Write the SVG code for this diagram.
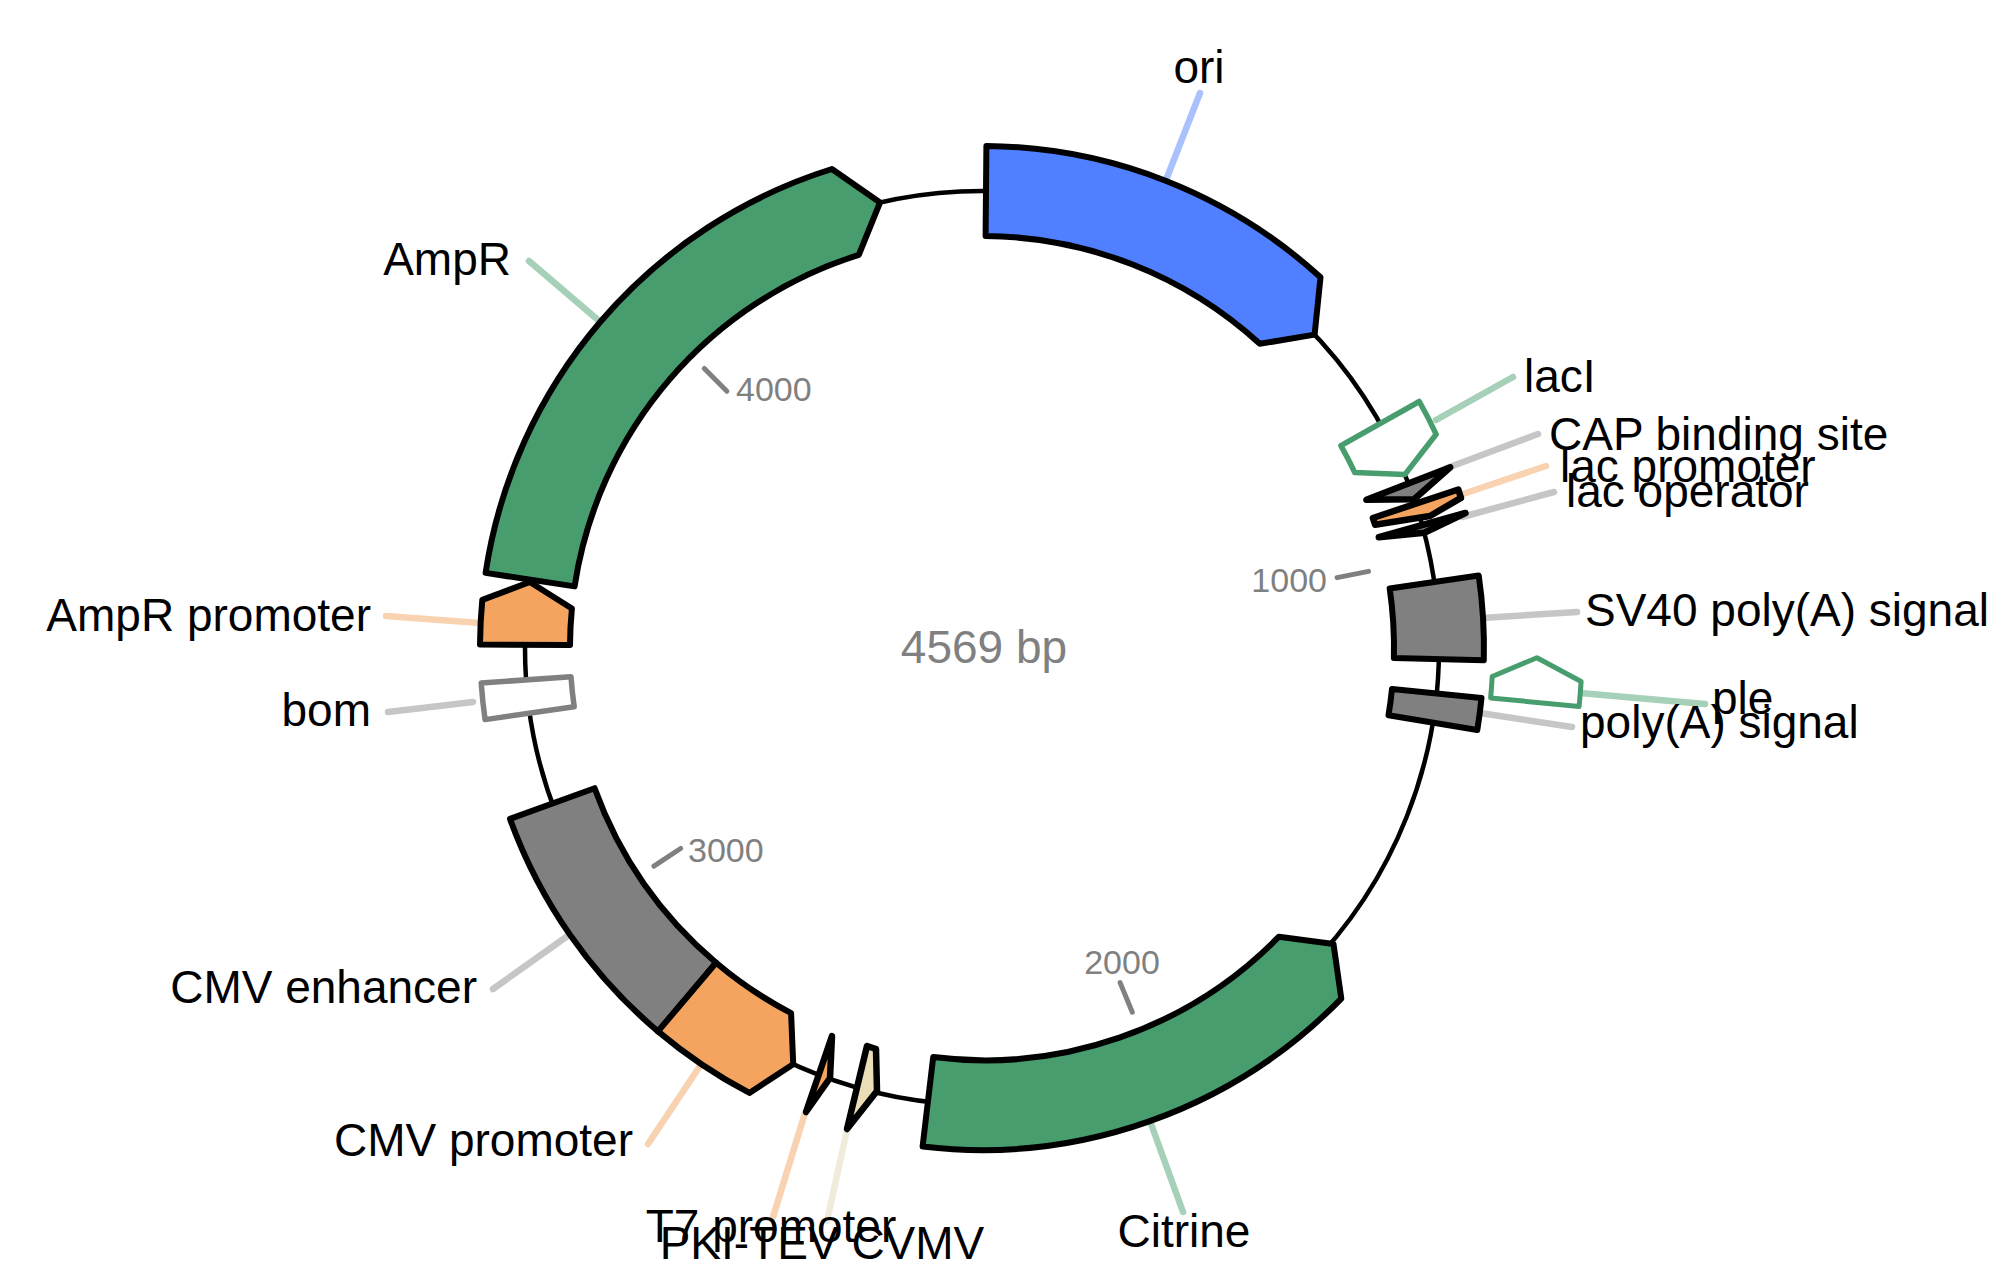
<svg xmlns="http://www.w3.org/2000/svg" width="2010" height="1278" viewBox="0 0 2010 1278">
<style>
.lbl{font-family:"Liberation Sans",Arial,Helvetica,sans-serif;font-size:46px;fill:#000}
.num{font-family:"Liberation Sans",Arial,Helvetica,sans-serif;font-size:34px;fill:#808080}
.f{stroke:#000;stroke-width:6;stroke-linejoin:round}
.s{stroke:#000;stroke-width:6.5;stroke-linejoin:round}
.ln{fill:none;stroke-width:6.5;stroke-linecap:round}
.tk{stroke:#808080;stroke-width:5;stroke-linecap:round}
.green{fill:#489d6e}
.blue{fill:#5080ff}
.orange{fill:#f4a45e}
.gray{fill:#808080}
.beige{fill:#e9deb6}
.lgreen{stroke:#a6d0b8}
.lblue{stroke:#a9c1fc}
.lorange{stroke:#f9d2b1}
.lgray{stroke:#c6c6c6}
.lbeige{stroke:#f0ebdb}
</style>
<rect width="2010" height="1278" fill="#ffffff"/>
<g id="backbone">
<circle cx="982" cy="648" r="457" fill="none" stroke="#000" stroke-width="4.5"/>
</g>
<g id="ticks">
<line class="tk" x1="1337.1" y1="577.6" x2="1368.5" y2="571.4"/>
<line class="tk" x1="1120.1" y1="982.6" x2="1132.3" y2="1012.2"/>
<line class="tk" x1="680.6" y1="848.5" x2="653.9" y2="866.2"/>
<line class="tk" x1="726.9" y1="391.2" x2="704.3" y2="368.5"/>
<text class="num" x="1327" y="592" text-anchor="end">1000</text>
<text class="num" x="1122" y="974" text-anchor="middle">2000</text>
<text class="num" x="688" y="862">3000</text>
<text class="num" x="736" y="401">4000</text>
</g>
<g id="connectors">
<line class="ln lblue" x1="1166" y1="180" x2="1200" y2="93"/>
<line class="ln lgreen" x1="598" y1="320" x2="529" y2="261"/>
<line class="ln lorange" x1="480" y1="623" x2="386" y2="616"/>
<line class="ln lgray" x1="473" y1="702" x2="388" y2="712"/>
<line class="ln lgray" x1="569" y1="935" x2="493" y2="989"/>
<line class="ln lorange" x1="702" y1="1063" x2="648" y2="1144"/>
<line class="ln lorange" x1="805" y1="1113" x2="773" y2="1217"/>
<line class="ln lbeige" x1="847" y1="1130" x2="827" y2="1221"/>
<line class="ln lgreen" x1="1150" y1="1121" x2="1183" y2="1212"/>
<line class="ln lgreen" x1="1436" y1="420" x2="1513" y2="377"/>
<line class="ln lgray" x1="1447" y1="468" x2="1538" y2="434"/>
<line class="ln lorange" x1="1460" y1="495" x2="1546" y2="466"/>
<line class="ln lgray" x1="1462" y1="517" x2="1554" y2="492"/>
<line class="ln lgray" x1="1482" y1="618" x2="1577" y2="612"/>
<line class="ln lgreen" x1="1580" y1="693" x2="1705" y2="704"/>
<line class="ln lgray" x1="1480" y1="713" x2="1572" y2="727"/>
</g>
<g id="ori">
<path class="f blue" d="M986.4,146 A502,502 0 0 1 1320.5,277.3 L1314.6,334.6 L1259.8,343.8 A412,412 0 0 0 985.6,236 Z"/>
<text class="lbl" x="1199" y="83" text-anchor="middle">ori</text>
</g>
<g id="AmpR">
<path class="f green" d="M485.6,572.9 A502,502 0 0 1 831.9,169 L880,202.5 L858.8,254.9 A412,412 0 0 0 574.6,586.4 Z"/>
<text class="lbl" x="511" y="275" text-anchor="end">AmpR</text>
</g>
<g id="AmpR-promoter">
<path class="f orange" d="M480,644.5 A502,502 0 0 1 482.3,599.9 L529.8,582 L571.9,608.5 A412,412 0 0 0 570,645.1 Z"/>
<text class="lbl" x="371" y="631" text-anchor="end">AmpR promoter</text>
</g>
<g id="bom">
<path d="M485.1,719.6 A502,502 0 0 1 481.2,683 L571,676.7 A412,412 0 0 0 574.2,706.8 Z" fill="#fff" stroke="#808080" stroke-width="5.5" stroke-linejoin="round"/>
<text class="lbl" x="371" y="726" text-anchor="end">bom</text>
</g>
<g id="CMV-enhancer">
<path class="f gray" d="M658,1031.4 A502,502 0 0 1 510,818.9 L594.6,788.2 A412,412 0 0 0 716.1,962.7 Z"/>
<text class="lbl" x="477" y="1003" text-anchor="end">CMV enhancer</text>
</g>
<g id="CMV-promoter">
<path class="f orange" d="M658,1031.4 A502,502 0 0 0 749.4,1092.9 L793.2,1064.2 L791.1,1013.1 A412,412 0 0 1 716.1,962.7 Z"/>
<text class="lbl" x="633" y="1156" text-anchor="end">CMV promoter</text>
</g>
<g id="T7-promoter">
<path class="s orange" d="M832,1036 L830,1078 L806,1112 Z"/>
<text class="lbl" x="771" y="1242" text-anchor="middle">T7 promoter</text>
</g>
<g id="PKI-TEV-CVMV">
<path class="s beige" d="M867,1046 L876,1049 L877,1091 L847,1129 Z"/>
<text class="lbl" x="822" y="1259" text-anchor="middle">PKI-TEV CVMV</text>
</g>
<g id="Citrine">
<path class="f green" d="M922.6,1146.5 A502,502 0 0 0 1341.3,998.6 L1333.5,944 L1278.9,936.7 A412,412 0 0 1 933.2,1057.1 Z"/>
<text class="lbl" x="1184" y="1247" text-anchor="middle">Citrine</text>
</g>
<g id="polyA-signal">
<path class="f gray" d="M1481.5,697.9 A502,502 0 0 1 1477.3,730 L1388.5,715.3 A412,412 0 0 0 1392,688.9 Z"/>
<text class="lbl" x="1580" y="738">poly(A) signal</text>
</g>
<g id="ple">
<path d="M1579.1,706.5 A600,600 0 0 0 1581.1,681.5 L1536.9,657.7 L1492.2,676.5 A511,511 0 0 1 1490.6,697.9 Z" fill="#fff" stroke="#489d6e" stroke-width="5" stroke-linejoin="round"/>
<text class="lbl" x="1712" y="714">ple</text>
</g>
<g id="SV40-polyA-signal">
<path class="f gray" d="M1478.7,575.5 A502,502 0 0 1 1483.8,660.3 L1393.9,658.1 A412,412 0 0 0 1389.7,588.5 Z"/>
<text class="lbl" x="1585" y="626">SV40 poly(A) signal</text>
</g>
<g id="lac-operator">
<path class="s gray" d="M1378.8,537.2 L1465.5,513 L1424.3,532.8 Z"/>
<text class="lbl" x="1566" y="507">lac operator</text>
</g>
<g id="lac-promoter">
<path class="s orange" d="M1372.9,518 L1458.3,489.5 L1461,497.9 L1430,516 L1375.1,524.8 Z"/>
<text class="lbl" x="1560" y="482">lac promoter</text>
</g>
<g id="CAP-binding-site">
<path class="s gray" d="M1366.4,499.7 L1450.3,467.3 L1414.1,499.2 Z"/>
<text class="lbl" x="1549" y="450">CAP binding site</text>
</g>
<g id="lacI">
<path d="M1340.9,445.7 L1419.3,401.5 A502,502 0 0 1 1436.2,434.3 L1404.8,474.6 L1354.8,472.6 A412,412 0 0 0 1340.9,445.7 Z" fill="#fff" stroke="#489d6e" stroke-width="5.5" stroke-linejoin="round"/>
<text class="lbl" x="1524" y="392">lacI</text>
</g>
<g id="center-label">
<text x="984" y="663" text-anchor="middle" font-family="Liberation Sans, Arial, sans-serif" font-size="46" fill="#808080">4569 bp</text>
</g>
</svg>
